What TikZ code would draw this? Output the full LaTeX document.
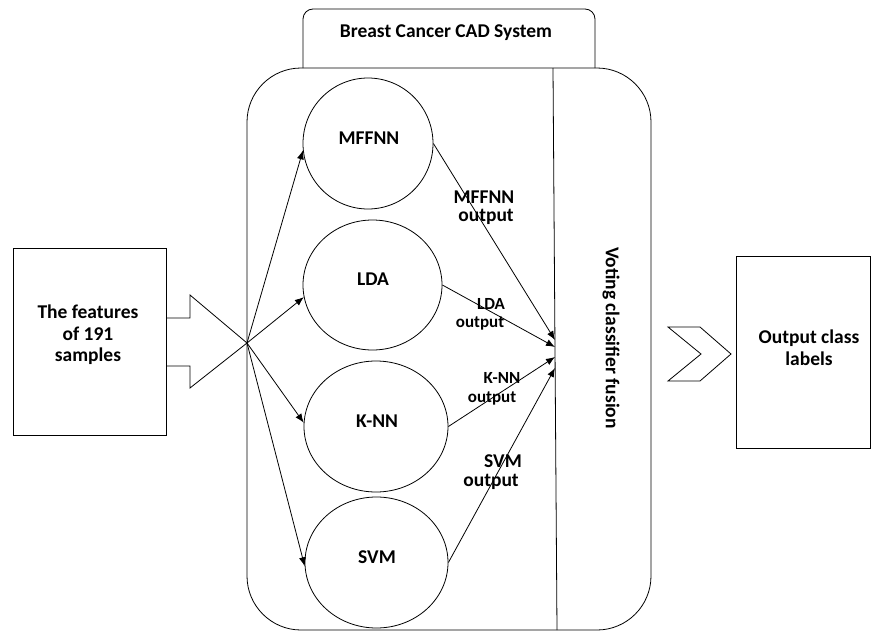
\documentclass[tikz,border=0pt]{standalone}
\usepackage{fontspec}
\setmainfont{Carlito}
\usetikzlibrary{shapes.geometric,arrows.meta}
\begin{document}
\begin{tikzpicture}[x=1pt,y=-1pt,
  line width=0.8pt,
  txt/.style={font=\fontsize{19.5}{21.5}\selectfont\bfseries, inner sep=0pt, align=center},
  smalltxt/.style={font=\fontsize{17}{19}\selectfont\bfseries, inner sep=0pt, align=center},
  clf/.style={draw, ellipse, inner sep=0pt},
  arr/.style={-{Latex[length=9pt,width=7pt]}},
  rectbox/.style={draw, rectangle, inner sep=0pt}]
\useasboundingbox (0,0) rectangle (873,632);
% tab
\draw (303,68) -- (303,19) [rounded corners=10pt] -- (303,9) -- (595,9) [sharp corners] -- (595,68);
\node[txt] (title) at (446,33) {Breast Cancer CAD System};
% main rounded box
\draw[rounded corners=54pt] (247,68) rectangle (651,630);
% vertical divider
\coordinate (vtop) at (553,68);
\coordinate (vbot) at (557,630);
\draw (vtop) -- (vbot);
\node[font=\fontsize{19.5}{22}\selectfont\bfseries, rotate=-90, inner sep=0pt] (vote) at (611,338) {Voting classifier fusion};
% input box
\node[rectbox, minimum width=153pt, minimum height=187pt] (in) at (89.5,341.5) {};
\node[txt] (intext) at (88,335) {The features\\of 191\\samples};
\coordinate (hub) at (247,343);
\draw (166,318) -- (190,318) -- (190,295) -- (hub) -- (190,388) -- (190,366) -- (166,366);
% classifiers
\node[clf, minimum width=130pt, minimum height=131pt] (m) at (368,143.5) {};
\node[clf, minimum width=139pt, minimum height=130pt] (l) at (372.5,285) {};
\node[clf, minimum width=144pt, minimum height=131pt] (k) at (376,426.5) {};
\node[clf, minimum width=143pt, minimum height=131pt] (s) at (376.5,562.5) {};
\node[txt] (mt) at (369,138) {MFFNN};
\node[txt] (lt) at (373,279) {LDA};
\node[txt] (kt) at (377,421) {K-NN};
\node[txt] (st) at (377,557) {SVM};
% input arrows
\draw[arr] (hub) -- (m.186);
\draw[arr] (hub) -- (l.190);
\draw[arr] (hub) -- (k.177);
\draw[arr] (hub) -- (s.183);
% output arrows
\coordinate (v1) at (555,340);
\coordinate (v2) at (555,347);
\coordinate (v3) at (555,357);
\coordinate (v4) at (555,368);
\draw[arr] (m.east) -- (v1);
\draw[arr] (l.east) -- (v2);
\draw[arr] (k.east) -- (v3);
\draw[arr] (s.east) -- (v4);
% output labels
\node[txt] (mo1) at (484,197) {MFFNN};
\node[txt] (mo2) at (486,217) {output};
\node[smalltxt] (lo1) at (491,304) {LDA};
\node[smalltxt] (lo2) at (480,323) {output};
\node[smalltxt] (ko1) at (502,378) {K-NN};
\node[smalltxt] (ko2) at (492,398) {output};
\node[txt] (so1) at (503,461) {SVM};
\node[txt] (so2) at (491,482) {output};
% chevron
\draw (668,327) -- (700,327) -- (731,354) -- (700,381) -- (668,381) -- (701,354) -- cycle;
% output box
\node[rectbox, minimum width=134pt, minimum height=192pt] (out) at (803,352) {};
\node[txt] (outtext) at (809,347.5) {Output class\\labels};
\end{tikzpicture}
\end{document}
